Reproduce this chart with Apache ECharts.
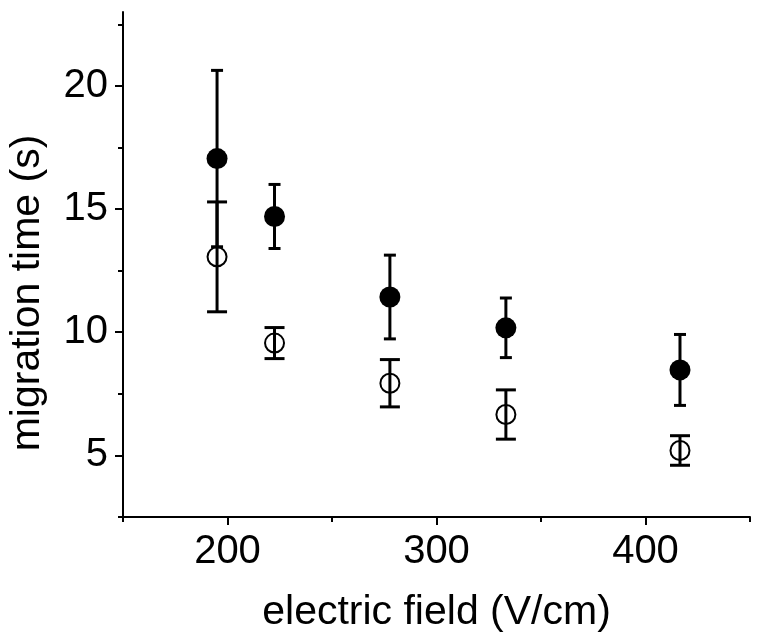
<!DOCTYPE html>
<html>
<head>
<meta charset="utf-8">
<script src="https://cdn.jsdelivr.net/npm/echarts@6/dist/echarts.min.js"></script>
<style>
html,body{margin:0;padding:0;background:#fff;}
#chart{width:762px;height:642px;}
</style>
</head>
<body>
<div id="chart"></div>
<script>
// Data
const fieldValues = [195, 222.5, 277.7, 333.2, 416.5];
const filledTimes = [17.05, 14.7, 11.43, 10.18, 8.47];
const filledErrors = [3.58, 1.3, 1.7, 1.21, 1.44];
const openTimes = [13.06, 9.56, 7.93, 6.66, 5.2];
const openErrors = [2.23, 0.63, 0.96, 1.0, 0.6];
const xMajorTicks = [200, 300, 400];
const xMinorTicks = [150, 250, 350, 450];
const yMajorTicks = [5, 10, 15, 20];
const yMinorTicks = [2.5, 7.5, 12.5, 17.5, 22.5];
const xTitle = 'electric field (V/cm)';
const yTitle = 'migration time (s)';

const FONT = 'Liberation Sans';

function errData(xs, ys, es) {
  return xs.map((x, i) => [x, ys[i], es[i]]);
}
function errSeries(data, capW) {
  return {
    type: 'custom',
    xAxisIndex: 0, yAxisIndex: 0,
    data: data,
    z: 5,
    renderItem: function (params, api) {
      const x = api.value(0), y = api.value(1), e = api.value(2);
      const top = api.coord([x, y + e]);
      const bot = api.coord([x, y - e]);
      const st = { stroke: '#000', lineWidth: 3 };
      return {
        type: 'group',
        children: [
          { type: 'line', shape: { x1: top[0], y1: top[1], x2: bot[0], y2: bot[1] }, style: st },
          { type: 'line', shape: { x1: top[0] - capW / 2, y1: top[1], x2: top[0] + capW / 2, y2: top[1] }, style: st },
          { type: 'line', shape: { x1: bot[0] - capW / 2, y1: bot[1], x2: bot[0] + capW / 2, y2: bot[1] }, style: st }
        ]
      };
    }
  };
}

const chart = echarts.init(document.getElementById('chart'), null, { renderer: 'canvas' });
const option = {
  animation: false,
  backgroundColor: '#fff',
  grid: { left: 123, right: 12, top: 12, bottom: 125, containLabel: false, outerBoundsMode: 'none' },
  graphic: [
    {
      type: 'text', x: 28, y: 293, rotation: Math.PI / 2, z: 10,
      style: {
        text: yTitle, x: 0, y: 0,
        align: 'center', verticalAlign: 'middle',
        textAlign: 'center', textVerticalAlign: 'middle',
        font: '41px "Liberation Sans"', fill: '#000'
      }
    }
  ],
  xAxis: [
    {
      type: 'value', min: 150, max: 450, position: 'bottom',
      name: xTitle, nameLocation: 'middle', nameGap: 75,
      nameTextStyle: { fontFamily: FONT, fontSize: 41, color: '#000' },
      axisLine: { show: true, lineStyle: { color: '#000', width: 2 } },
      axisTick: { show: true, inside: false, length: 8, lineStyle: { color: '#000', width: 2 }, customValues: xMajorTicks },
      axisLabel: { show: true, margin: 15, fontFamily: FONT, fontSize: 40, color: '#000', customValues: xMajorTicks },
      splitLine: { show: false }
    },
    {
      type: 'value', min: 150, max: 450, position: 'bottom', offset: 0,
      axisLine: { show: false },
      axisTick: { show: true, inside: false, length: 5, lineStyle: { color: '#000', width: 2 }, customValues: xMinorTicks },
      axisLabel: { show: false },
      splitLine: { show: false }
    }
  ],
  yAxis: [
    {
      type: 'value', min: 2.5, max: 23, position: 'left',
      axisLine: { show: true, lineStyle: { color: '#000', width: 2 } },
      axisTick: { show: true, inside: false, length: 8, lineStyle: { color: '#000', width: 2 }, customValues: yMajorTicks },
      axisLabel: { show: true, margin: 15, fontFamily: FONT, fontSize: 40, color: '#000', customValues: yMajorTicks },
      splitLine: { show: false }
    },
    {
      type: 'value', min: 2.5, max: 23, position: 'left', offset: 0,
      axisLine: { show: false },
      axisTick: { show: true, inside: false, length: 5, lineStyle: { color: '#000', width: 2 }, customValues: yMinorTicks },
      axisLabel: { show: false },
      splitLine: { show: false }
    }
  ],
  series: [
    errSeries(errData(fieldValues, openTimes, openErrors), 20),
    errSeries(errData(fieldValues, filledTimes, filledErrors), 12),
    {
      type: 'scatter', xAxisIndex: 0, yAxisIndex: 0, z: 6,
      data: fieldValues.map((x, i) => [x, openTimes[i]]),
      symbol: 'circle', symbolSize: 19,
      itemStyle: { color: 'rgba(0,0,0,0)', borderColor: '#000', borderWidth: 2, opacity: 1 }
    },
    {
      type: 'scatter', xAxisIndex: 0, yAxisIndex: 0, z: 7,
      data: fieldValues.map((x, i) => [x, filledTimes[i]]),
      symbol: 'circle', symbolSize: 21,
      itemStyle: { color: '#000', borderColor: '#000', borderWidth: 0, opacity: 1 }
    }
  ]
};
chart.setOption(option);
</script>
</body>
</html>
